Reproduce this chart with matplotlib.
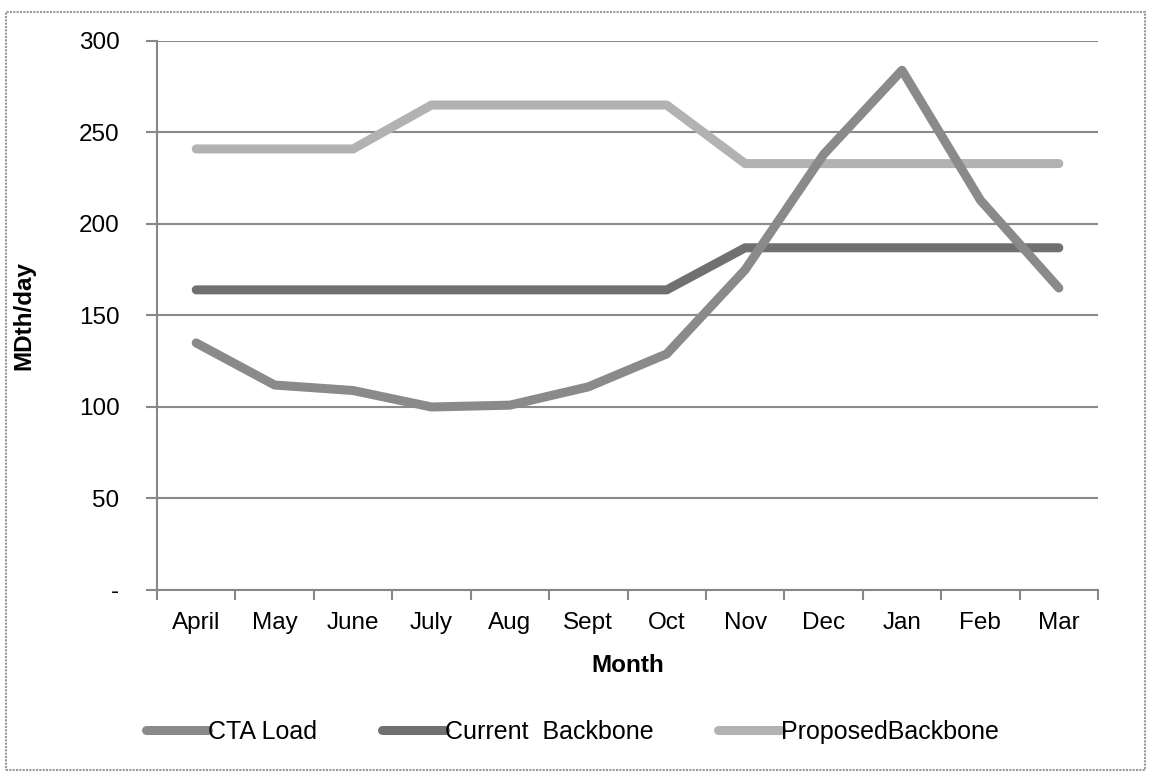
import matplotlib
matplotlib.use("Agg")
import matplotlib.pyplot as plt
from matplotlib.patches import Rectangle

# data
months = ["April", "May", "June", "July", "Aug", "Sept", "Oct", "Nov", "Dec", "Jan", "Feb", "Mar"]
cta_load = [135, 112, 109, 100, 101, 111, 129, 175, 238, 284, 213, 165]
current_backbone = [164, 164, 164, 164, 164, 164, 164, 187, 187, 187, 187, 187]
proposed_backbone = [241, 241, 241, 265, 265, 265, 265, 233, 233, 233, 233, 233]
yticks = [0, 50, 100, 150, 200, 250, 300]
ytick_labels = ["-", "50", "100", "150", "200", "250", "300"]


def main():
    plt.rcParams["font.family"] = ["Liberation Sans", "DejaVu Sans"]
    fs = 17.5

    fig = plt.figure(figsize=(11.51, 7.76), dpi=100)
    ax = fig.add_axes([0.1364, 0.2397, 0.8176, 0.7075])

    # outer frame of the chart area
    fig.patches.append(Rectangle((0.005, 0.008), 0.99, 0.977, transform=fig.transFigure,
                                 fill=False, edgecolor="#999999", linewidth=1.5, linestyle=(0, (1, 0.6))))

    x = list(range(len(months)))
    lw = 6.5
    ax.plot(x, cta_load, color="#8a8a8a", lw=lw, solid_capstyle="round", solid_joinstyle="round",
            label="CTA Load", zorder=3)
    ax.plot(x, current_backbone, color="#707070", lw=lw, solid_capstyle="round", solid_joinstyle="round",
            label="Current  Backbone", zorder=2)
    ax.plot(x, proposed_backbone, color="#b2b2b2", lw=lw, solid_capstyle="round", solid_joinstyle="round",
            label="ProposedBackbone", zorder=2)

    ax.set_xlim(-0.5, len(months) - 0.5)
    ax.set_ylim(0, 300)
    ax.set_yticks(yticks)
    ax.set_yticklabels(ytick_labels)
    ax.set_xticks(x)
    ax.set_xticklabels(months)
    ax.set_xticks([i - 0.5 for i in range(len(months) + 1)], minor=True)
    ax.tick_params(axis="x", which="major", length=0, pad=16, labelsize=fs)
    ax.tick_params(axis="x", which="minor", length=7, color="#888888", width=1.5, direction="out")
    ax.tick_params(axis="y", length=8, color="#888888", width=1.5, pad=19, labelsize=fs)

    ax.yaxis.grid(True, color="#8a8a8a", linewidth=1.5)
    ax.set_axisbelow(True)
    for s in ["top", "right"]:
        ax.spines[s].set_visible(False)
    for s in ["left", "bottom"]:
        ax.spines[s].set_color("#888888")
        ax.spines[s].set_linewidth(1.5)

    ax.set_ylabel("MDth/day", fontsize=fs, fontweight="bold", labelpad=31)
    ax.set_xlabel("Month", fontsize=fs, fontweight="bold", labelpad=14)

    fig.legend(loc="center", bbox_to_anchor=(0.497, 0.057), ncol=3, frameon=False,
               fontsize=fs + 0.5, handlelength=2.5, handletextpad=0.0, columnspacing=2.6)

    fig.savefig("out.png", dpi=100)


if __name__ == "__main__":
    main()
